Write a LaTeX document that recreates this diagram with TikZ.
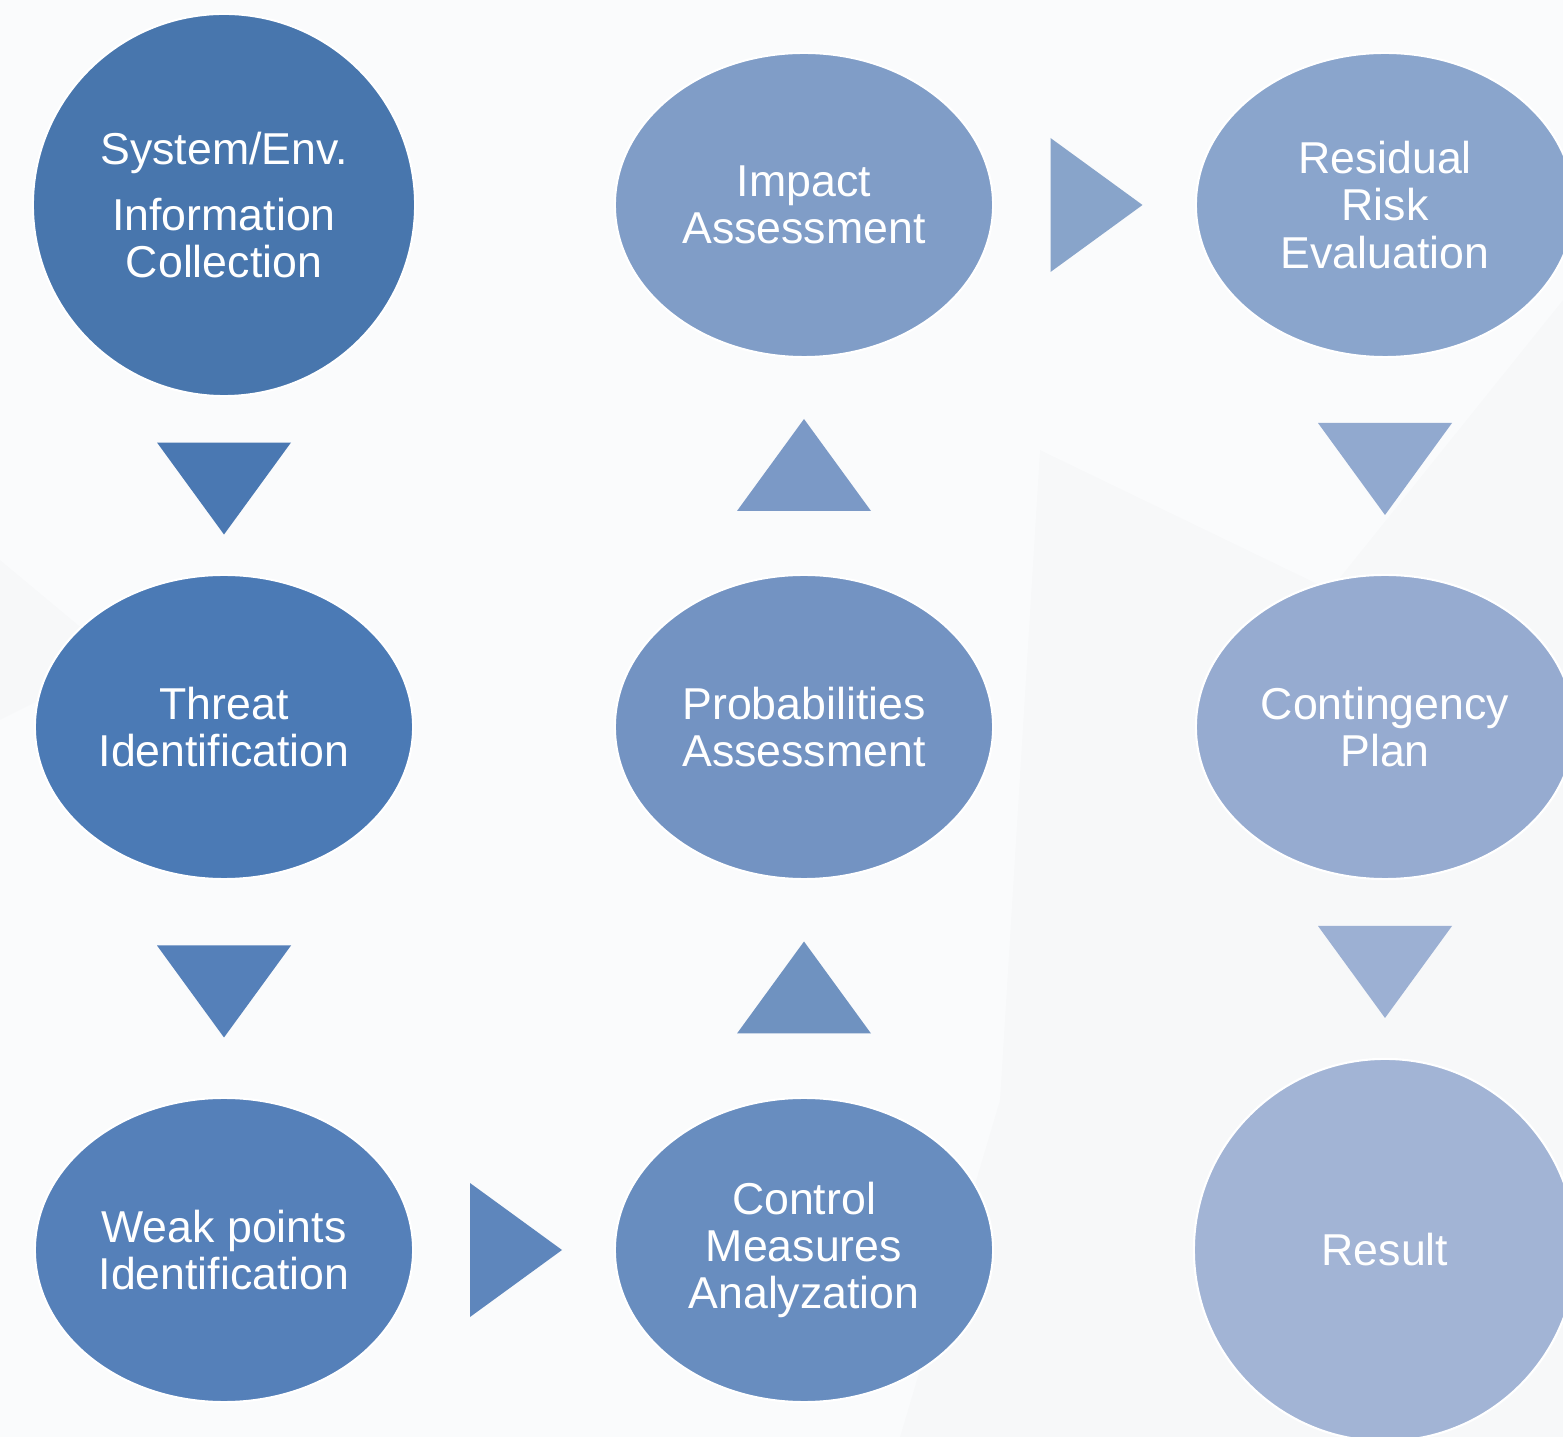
\documentclass[tikz,border=0pt]{standalone}
\usepackage{fontspec}
\setmainfont{Liberation Sans}
\usetikzlibrary{shapes.geometric,positioning,calc}

\definecolor{bgcol}{HTML}{FAFBFC}
\definecolor{c1}{HTML}{4876AD}
\definecolor{c2}{HTML}{4B7AB5}
\definecolor{c3}{HTML}{5580B9}
\definecolor{c4}{HTML}{688DBF}
\definecolor{c5}{HTML}{7393C2}
\definecolor{c6}{HTML}{809DC7}
\definecolor{c7}{HTML}{8AA5CC}
\definecolor{c8}{HTML}{96ABD0}
\definecolor{c9}{HTML}{A2B4D5}
\definecolor{p1}{HTML}{4A78B2}
\definecolor{p2}{HTML}{5580B9}
\definecolor{p3}{HTML}{5E86BC}
\definecolor{p4}{HTML}{6F92C0}
\definecolor{p5}{HTML}{7B99C6}
\definecolor{p6}{HTML}{88A4CA}
\definecolor{p7}{HTML}{91A9CF}
\definecolor{p8}{HTML}{9CB0D3}

\begin{document}
\begin{tikzpicture}[x=0.01cm,y=-0.01cm,
  blob/.style={ellipse,draw=white,line width=0.6pt,inner sep=0pt,minimum width=3.78cm,minimum height=3.04cm,text=white,align=center,font=\fontsize{12.7}{13.4}\selectfont},
  roundblob/.style={blob,minimum width=3.82cm,minimum height=3.82cm}]
  \useasboundingbox (0,0) rectangle (1563,1437);
  \clip (0,0) rectangle (1563,1437);
  \fill[bgcol] (0,0) rectangle (1563,1437);
  % faint backdrop
  \fill[black,opacity=0.012] (1040,450) -- (1330,590) -- (1563,300) -- (1563,1437) -- (900,1437) -- (1000,1100) -- cycle;
  \fill[black,opacity=0.01] (0,560) -- (120,660) -- (0,720) -- cycle;

  % first column
  \node[roundblob,fill=c1] (sysinfo) at (224,205) {System/Env.\\[0.19cm]Information\\Collection};
  \node[blob,fill=c2] (threat) at (224,727) {Threat\\Identification};
  \node[blob,fill=c3] (weak) at (224,1250) {Weak points\\Identification};

  % second column
  \node[blob,fill=c4] (control) at (804,1250) {Control\\Measures\\Analyzation};
  \node[blob,fill=c5] (prob) at (804,727) {Probabilities\\Assessment};
  \node[blob,fill=c6] (impact) at (804,205) {Impact\\Assessment};

  % third column
  \node[blob,fill=c7] (resid) at (1385,205) {Residual\\Risk\\Evaluation};
  \node[blob,fill=c8] (conting) at (1385,727) {Contingency\\Plan};
  \node[roundblob,fill=c9] (result) at (1385,1250) {Result};

  % pointers
  \foreach \a/\b/\col in {sysinfo/threat/p1, threat/weak/p2, resid/conting/p7, conting/result/p8}
    \fill[\col] ($(\a.south)!.5!(\b.north)$) ++(-67,-43) -- ++(134,0) -- ++(-67,92) -- cycle;
  \foreach \a/\b/\col in {control/prob/p4, prob/impact/p5}
    \fill[\col] ($(\a.north)!.5!(\b.south)$) ++(-67,45) -- ++(134,0) -- ++(-67,-92) -- cycle;
  \foreach \a/\b/\col in {weak/control/p3, impact/resid/p6}
    \fill[\col] ($(\a.east)!.5!(\b.west)$) ++(-44,-67) -- ++(0,134) -- ++(92,-67) -- cycle;
\end{tikzpicture}
\end{document}
